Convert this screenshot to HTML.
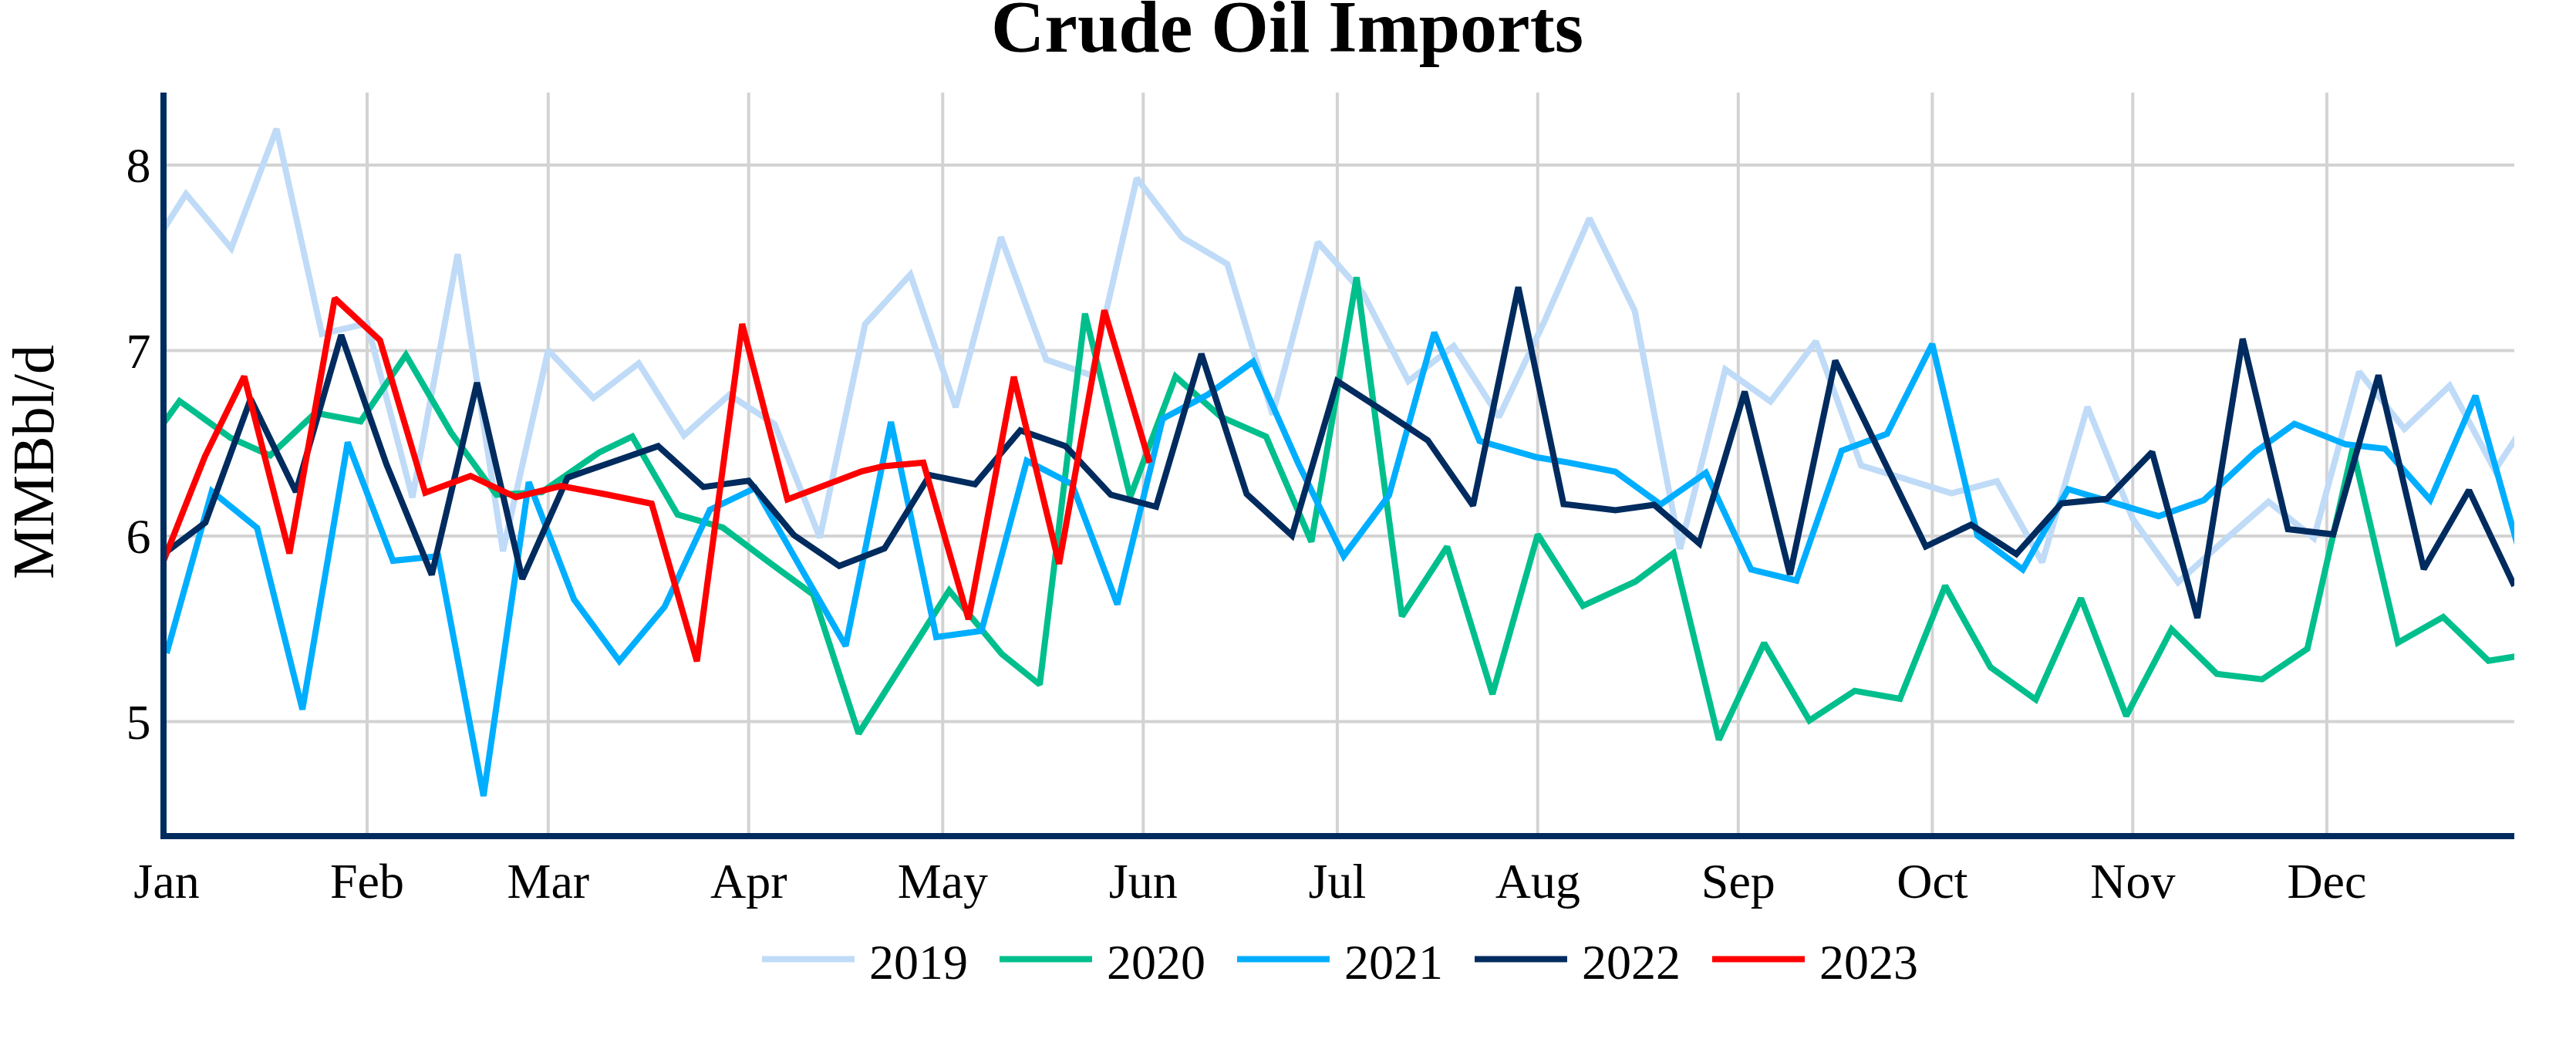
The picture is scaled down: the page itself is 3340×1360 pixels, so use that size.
<!DOCTYPE html>
<html><head><meta charset="utf-8"><title>Crude Oil Imports</title>
<style>
html,body{margin:0;padding:0;background:#fff;}
body{width:3340px;height:1360px;overflow:hidden;}
svg{display:block;}
text{font-family:"Liberation Serif",serif;fill:#000;}
.tk{font-size:64px;}
.ln{fill:none;stroke-width:8;stroke-linejoin:miter;stroke-miterlimit:2;stroke-linecap:butt;}
</style></head><body>
<svg width="3340" height="1360" viewBox="0 0 3340 1360">
<rect x="0" y="0" width="3340" height="1360" fill="#ffffff"/>
<defs><clipPath id="pc"><rect x="216" y="120" width="3044" height="960"/></clipPath></defs>

<g stroke="#d3d3d3" stroke-width="4" fill="none">
<path d="M476.0,120V1080"/>
<path d="M710.8,120V1080"/>
<path d="M970.7,120V1080"/>
<path d="M1222.3,120V1080"/>
<path d="M1482.3,120V1080"/>
<path d="M1733.9,120V1080"/>
<path d="M1993.8,120V1080"/>
<path d="M2253.8,120V1080"/>
<path d="M2505.4,120V1080"/>
<path d="M2765.3,120V1080"/>
<path d="M3016.9,120V1080"/>
<path d="M216,214.0H3260"/>
<path d="M216,454.5H3260"/>
<path d="M216,695.0H3260"/>
<path d="M216,935.5H3260"/>
</g>
<g clip-path="url(#pc)">
<path class="ln" stroke="#bfdbf7" d="M182.5,344.3L241.2,251.5L299.9,322.0L358.6,167.0L417.3,433.0L476.0,419.4L534.7,645.0L593.4,329.6L652.1,714.7L710.8,454.0L769.5,516.0L828.2,471.0L886.9,564.5L945.6,511.8L1004.3,549.8L1063.0,697.0L1121.7,420.2L1180.4,355.9L1239.1,528.0L1297.8,307.5L1356.5,466.4L1415.2,486.5L1473.9,231.0L1532.6,307.8L1591.3,342.3L1650.0,537.5L1708.7,314.0L1767.4,380.4L1826.1,494.1L1884.8,448.5L1943.5,540.6L2002.2,417.0L2060.9,283.0L2119.6,403.1L2178.3,711.7L2237.0,479.0L2295.7,520.6L2354.4,442.6L2413.1,603.5L2471.8,621.3L2530.5,639.5L2589.2,624.0L2647.9,729.0L2706.6,527.5L2765.3,672.6L2824.0,755.0L2882.7,701.7L2941.4,650.4L3000.1,697.7L3058.8,482.0L3117.5,556.0L3176.2,500.0L3234.9,609.6L3293.6,520.0"/>
<path class="ln" stroke="#00bf8c" d="M174.1,601.0L232.8,520.0L298.7,567.4L350.2,590.4L408.9,535.4L467.6,546.3L526.3,460.2L585.0,561.0L643.7,641.5L702.4,638.0L776.7,586.7L819.8,566.0L878.5,667.0L937.2,684.0L995.9,728.0L1054.6,771.0L1113.3,951.0L1172.0,858.0L1230.7,765.5L1298.9,847.8L1348.1,887.5L1406.8,406.6L1465.5,644.0L1524.2,488.2L1582.9,540.3L1641.6,566.1L1700.3,702.4L1759.0,359.5L1817.7,799.0L1876.4,708.8L1935.1,900.0L1993.8,693.0L2052.5,785.4L2120.5,754.0L2169.9,717.0L2228.6,959.1L2287.3,833.7L2346.0,934.0L2404.7,895.6L2463.4,906.0L2522.1,759.5L2580.8,865.0L2639.5,907.0L2698.2,775.6L2756.9,928.2L2815.6,816.0L2874.3,873.7L2933.0,880.7L2991.7,841.1L3050.4,582.0L3109.1,833.2L3167.8,800.0L3226.5,856.7L3285.2,847.3"/>
<path class="ln" stroke="#00aeff" d="M216.0,847.0L274.7,637.0L333.4,684.5L392.1,919.8L450.8,573.5L509.5,727.0L568.2,721.0L626.9,1032.0L685.6,625.0L744.3,777.2L803.0,857.0L861.7,786.7L920.4,661.0L979.1,632.7L1037.8,735.4L1096.5,837.5L1155.2,547.0L1213.9,826.0L1272.6,818.0L1331.3,597.4L1390.0,627.8L1448.7,783.5L1507.4,543.0L1566.1,511.5L1624.8,469.0L1683.5,601.2L1742.2,721.0L1800.9,642.2L1859.6,431.0L1918.3,571.6L1993.3,593.0L2035.7,600.1L2094.4,611.5L2153.1,654.0L2211.8,613.0L2270.5,738.4L2329.2,752.7L2387.9,584.3L2446.6,562.6L2505.3,446.0L2564.0,694.3L2622.7,738.4L2681.4,634.2L2740.1,651.7L2798.8,669.2L2857.5,648.5L2924.0,586.0L2974.9,549.5L3041.5,576.1L3092.3,581.8L3151.0,648.2L3209.7,513.2L3268.4,721.5"/>
<path class="ln" stroke="#002b5e" d="M207.6,721.5L266.3,677.5L325.0,517.2L383.7,637.7L442.4,434.3L501.1,602.0L559.8,745.2L618.5,496.2L677.2,750.6L735.9,619.1L794.6,598.7L853.3,578.4L912.0,631.4L970.7,623.2L1029.4,693.8L1088.1,733.8L1146.8,711.0L1205.5,615.9L1264.2,627.8L1322.9,558.0L1381.6,578.4L1440.3,641.4L1499.0,657.0L1557.7,458.8L1616.4,640.5L1675.1,694.3L1733.8,494.1L1792.5,532.2L1851.2,570.8L1909.9,655.5L1968.6,372.4L2027.3,653.5L2094.5,661.5L2144.7,654.5L2203.4,704.6L2262.1,507.7L2320.8,744.8L2379.5,467.5L2438.2,588.2L2496.9,708.5L2555.6,680.3L2614.3,718.3L2673.0,652.5L2731.7,646.8L2790.4,586.0L2849.1,801.1L2907.8,439.3L2966.5,686.0L3025.2,692.8L3083.9,486.5L3142.6,737.8L3201.3,635.6L3260.0,759.6"/>
<path class="ln" stroke="#ff0000" d="M199.2,759.6L265.6,592.0L316.6,488.0L375.3,717.5L434.0,386.8L492.7,441.1L551.4,638.8L610.1,617.0L668.8,644.5L727.5,630.0L786.2,641.0L844.9,653.0L903.6,857.3L962.3,420.0L1021.0,647.5L1117.4,611.0L1145.4,604.4L1197.2,599.7L1255.8,803.0L1314.5,488.4L1373.2,731.0L1431.9,402.3L1490.6,600.0"/>
</g>
<path d="M212,120V1088" stroke="#002b5e" stroke-width="8" fill="none"/>
<path d="M208,1084H3260" stroke="#002b5e" stroke-width="8" fill="none"/>
<text class="tk" x="216.0" y="1164" text-anchor="middle">Jan</text>
<text class="tk" x="476.0" y="1164" text-anchor="middle">Feb</text>
<text class="tk" x="710.8" y="1164" text-anchor="middle">Mar</text>
<text class="tk" x="970.7" y="1164" text-anchor="middle">Apr</text>
<text class="tk" x="1222.3" y="1164" text-anchor="middle">May</text>
<text class="tk" x="1482.3" y="1164" text-anchor="middle">Jun</text>
<text class="tk" x="1733.9" y="1164" text-anchor="middle">Jul</text>
<text class="tk" x="1993.8" y="1164" text-anchor="middle">Aug</text>
<text class="tk" x="2253.8" y="1164" text-anchor="middle">Sep</text>
<text class="tk" x="2505.4" y="1164" text-anchor="middle">Oct</text>
<text class="tk" x="2765.3" y="1164" text-anchor="middle">Nov</text>
<text class="tk" x="3016.9" y="1164" text-anchor="middle">Dec</text>
<text class="tk" x="195.5" y="236.0" text-anchor="end">8</text>
<text class="tk" x="195.5" y="476.5" text-anchor="end">7</text>
<text class="tk" x="195.5" y="717.0" text-anchor="end">6</text>
<text class="tk" x="195.5" y="957.5" text-anchor="end">5</text>
<text transform="translate(68.6,599) rotate(-90)" font-size="76" text-anchor="middle">MMBbl/d</text>
<text x="1669" y="66.8" font-size="96" font-weight="bold" text-anchor="middle">Crude Oil Imports</text>
<path d="M988,1243.5h120" stroke="#bfdbf7" stroke-width="8" fill="none"/>
<text class="tk" x="1127" y="1269" text-anchor="start">2019</text>
<path d="M1296,1243.5h120" stroke="#00bf8c" stroke-width="8" fill="none"/>
<text class="tk" x="1435" y="1269" text-anchor="start">2020</text>
<path d="M1604,1243.5h120" stroke="#00aeff" stroke-width="8" fill="none"/>
<text class="tk" x="1743" y="1269" text-anchor="start">2021</text>
<path d="M1912,1243.5h120" stroke="#002b5e" stroke-width="8" fill="none"/>
<text class="tk" x="2051" y="1269" text-anchor="start">2022</text>
<path d="M2220,1243.5h120" stroke="#ff0000" stroke-width="8" fill="none"/>
<text class="tk" x="2359" y="1269" text-anchor="start">2023</text>
</svg></body></html>
